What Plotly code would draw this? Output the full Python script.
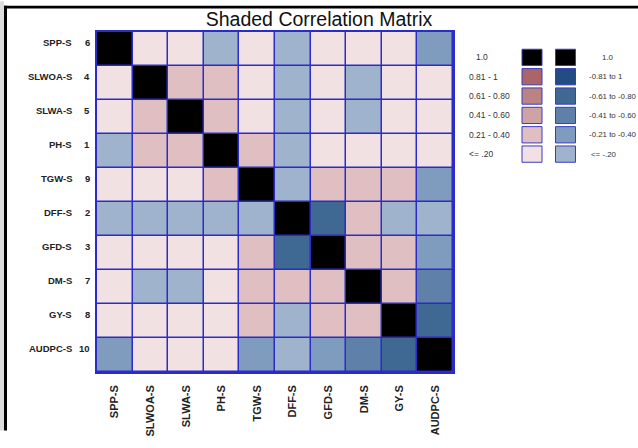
import numpy as np
import plotly.graph_objects as go

# ---------------- data ----------------
variables = ["SPP-S", "SLWOA-S", "SLWA-S", "PH-S", "TGW-S", "DFF-S", "GFD-S", "DM-S", "GY-S", "AUDPC-S"]
var_numbers = ["6", "4", "5", "1", "9", "2", "3", "7", "8", "10"]

# estimated correlation values (read from shading class)
corr = [
    [1.00, 0.12, 0.10, -0.15, 0.08, -0.12, 0.05, 0.10, 0.14, -0.32],
    [0.12, 1.00, 0.30, 0.28, 0.10, -0.15, 0.08, -0.12, 0.06, 0.10],
    [0.10, 0.30, 1.00, 0.27, 0.12, -0.14, 0.09, -0.13, 0.07, 0.11],
    [-0.15, 0.28, 0.27, 1.00, 0.26, -0.10, 0.12, 0.05, 0.09, 0.08],
    [0.08, 0.10, 0.12, 0.26, 1.00, -0.18, 0.31, 0.29, 0.33, -0.35],
    [-0.12, -0.15, -0.14, -0.10, -0.18, 1.00, -0.65, 0.25, -0.15, -0.18],
    [0.05, 0.08, 0.09, 0.12, 0.31, -0.65, 1.00, 0.27, 0.30, -0.33],
    [0.10, -0.12, -0.13, 0.05, 0.29, 0.25, 0.27, 1.00, 0.28, -0.50],
    [0.14, 0.06, 0.07, 0.09, 0.33, -0.15, 0.30, 0.28, 1.00, -0.66],
    [-0.32, 0.10, 0.11, 0.08, -0.35, -0.18, -0.33, -0.50, -0.66, 1.00],
]

# shading classes (from most negative to 1.0)
class_edges = [-0.805, -0.605, -0.405, -0.205, 0.0, 0.205, 0.405, 0.605, 0.805, 0.999]
class_colors = ["#224c82", "#3f6893", "#5e80a9", "#7f9bbe", "#a0b3cd",
                "#f1e1e3", "#dfbfc1", "#cda3a5", "#bc8385", "#a96567", "#000000"]

legend_pos_labels = ["1.0", "0.81 - 1", "0.61 - 0.80", "0.41 - 0.60", "0.21 - 0.40", "<= .20"]
legend_pos_classes = [10, 9, 8, 7, 6, 5]
legend_neg_labels = ["1.0", "-0.81 to 1", "-0.61 to -0.80", "-0.41 to -0.60", "-0.21 to -0.40", "<= -.20"]
legend_neg_classes = [10, 0, 1, 2, 3, 4]

# ---------------- layout constants ----------------
W, H = 638, 448
L, R, T, B = 97, 453, 32, 387
GRID = "#2b2bc8"
SANS = "Liberation Sans, Arial, sans-serif"


def px(x):
    return (x - L) / (R - L)


def py(y):
    return (B - y) / (B - T)


z_class = np.digitize(np.array(corr), class_edges)
n_cls = len(class_colors)
colorscale = []
for i, c in enumerate(class_colors):
    colorscale.append([i / n_cls, c])
    colorscale.append([(i + 1) / n_cls, c])

n = len(variables)
fig = go.Figure(go.Heatmap(
    z=z_class,
    x=list(range(n)),
    y=list(range(n)),
    customdata=np.array(corr),
    hovertemplate="%{customdata:.2f}<extra></extra>",
    colorscale=colorscale,
    zmin=-0.5, zmax=n_cls - 0.5,
    showscale=False,
    xgap=1.5, ygap=1.5,
))

annotations = []
for i, (name, num) in enumerate(zip(variables, var_numbers)):
    annotations.append(dict(x=0, xref="paper", y=i, yref="y", text=name, showarrow=False,
                            xanchor="right", yanchor="middle", xshift=-23, yshift=7,
                            font=dict(family=SANS, size=9.5, color="#222222", weight="bold")))
    annotations.append(dict(x=0, xref="paper", y=i, yref="y", text=num, showarrow=False,
                            xanchor="right", yanchor="middle", xshift=-5, yshift=7,
                            font=dict(family=SANS, size=9.5, color="#222222", weight="bold")))

shapes = []
# picture frame
shapes.append(dict(type="rect", xref="paper", yref="paper", x0=px(0), x1=px(4), y0=py(H), y1=py(0),
                   line=dict(width=0), fillcolor="#dcdcdc", layer="below"))
shapes.append(dict(type="rect", xref="paper", yref="paper", x0=px(4), x1=px(W), y0=py(7.5), y1=py(4.5),
                   line=dict(width=0), fillcolor="#000000"))
shapes.append(dict(type="rect", xref="paper", yref="paper", x0=px(4), x1=px(7), y0=py(H), y1=py(4.5),
                   line=dict(width=0), fillcolor="#000000"))

# custom shading legend
sw_top, sw_step, sw_h = 50, 20.2, 17
for col, (labels, classes, sw_x, txt_x, fsize) in enumerate([
        (legend_pos_labels, legend_pos_classes, 522, [474, 467, 467, 467, 467, 467], 8.5),
        (legend_neg_labels, legend_neg_classes, 555.5, [600, 587, 587, 587, 587, 589], 7.9)]):
    for k, (lab, cls) in enumerate(zip(labels, classes)):
        y0 = sw_top + k * sw_step
        shapes.append(dict(type="rect", xref="paper", yref="paper",
                           x0=px(sw_x), x1=px(sw_x + 20), y0=py(y0 + sw_h), y1=py(y0),
                           fillcolor=class_colors[cls], line=dict(color="#3a3ac4", width=1)))
        annotations.append(dict(x=px(txt_x[k]), xref="paper", y=py(y0 + sw_h / 2), yref="paper",
                                text=lab, showarrow=False, xanchor="left", yanchor="middle",
                                font=dict(family=SANS, size=fsize, color="#333333")))

fig.update_layout(
    width=W, height=H,
    margin=dict(l=L, r=W - R, t=T, b=H - B, pad=0),
    paper_bgcolor="white",
    plot_bgcolor=GRID,
    title=dict(text="Shaded Correlation Matrix", x=px(275), xanchor="center",
               y=1 - 19 / H, yanchor="middle",
               font=dict(family=SANS, size=19.5, color="#111111")),
    annotations=annotations,
    shapes=shapes,
    xaxis=dict(tickvals=list(range(n)), ticktext=variables, tickangle=-90,
               range=[-0.5, n - 0.5], showgrid=False, zeroline=False,
               ticks="outside", ticklen=7, tickcolor="rgba(0,0,0,0)",
               tickfont=dict(family=SANS, size=11, color="#222222", weight="bold"),
               showline=True, linecolor=GRID, linewidth=1.5, mirror=True),
    yaxis=dict(tickvals=list(range(n)), showticklabels=False,
               range=[n - 0.5, -0.5], showgrid=False, zeroline=False, ticks="",
               showline=True, linecolor=GRID, linewidth=1.5, mirror=True),
    font=dict(family=SANS),
)

fig.write_html("out.html", config={"displayModeBar": False},
               post_script="document.body.style.margin='0px';document.body.style.overflow='hidden';")
